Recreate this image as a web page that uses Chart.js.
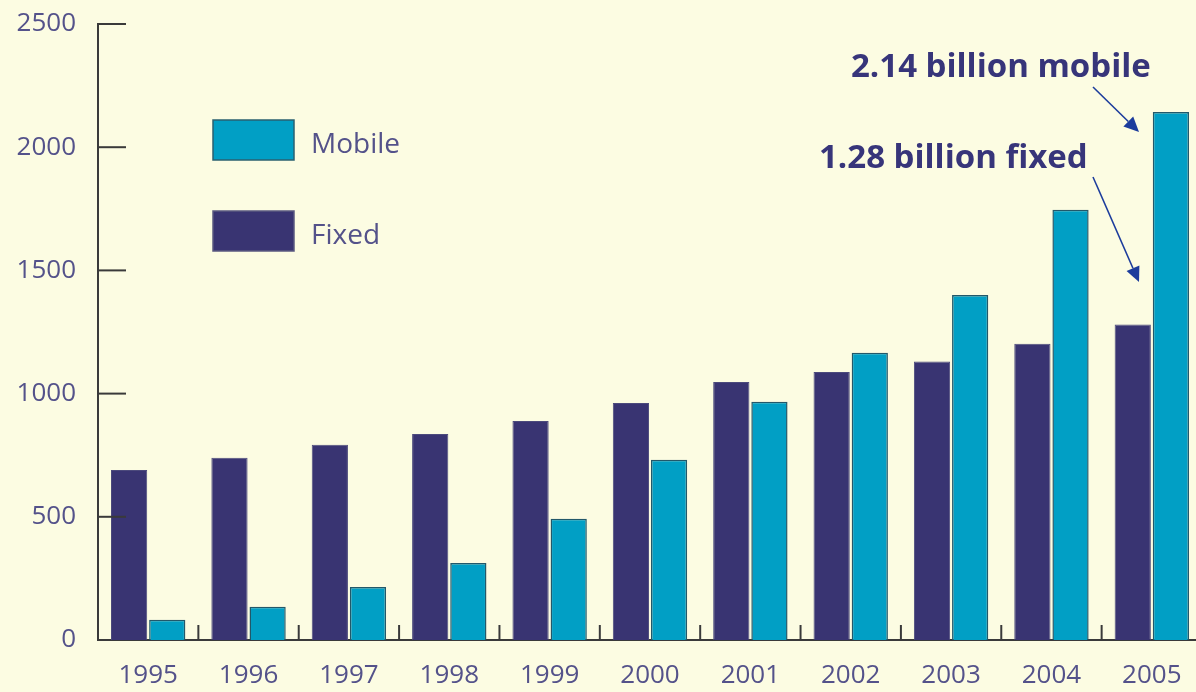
<!DOCTYPE html>
<html>
<head>
<meta charset="utf-8">
<script src="https://cdn.jsdelivr.net/npm/chart.js@4"></script>
<style>
  html, body { margin: 0; padding: 0; background: #fcfce2; overflow: hidden; }
  #wrap { width: 1203px; height: 692px; position: relative; }
</style>
</head>
<body>
<div id="wrap"><canvas id="subsChart"></canvas></div>
<script>
const years = ['1995', '1996', '1997', '1998', '1999', '2000', '2001', '2002', '2003', '2004', '2005'];
const fixedLines = [690, 740, 792, 836, 889, 962, 1047, 1088, 1130, 1202, 1280];
const mobileSubs = [82, 135, 215, 312, 492, 732, 967, 1166, 1400, 1746, 2143];
const yTicks = [0, 500, 1000, 1500, 2000, 2500];

const labelColor = '#54528a';
const axisColor = '#3a3a3a';
const fixedColor = '#393472';
const mobileColor = '#019fc5';

// inward ticks, legend and the two callouts
const extras = {
  id: 'extras',
  afterDraw(chart) {
    const ctx = chart.ctx;
    const x = chart.scales.x, y = chart.scales.y;
    const area = chart.chartArea;
    ctx.save();
    ctx.strokeStyle = axisColor;
    ctx.lineWidth = 2;
    yTicks.forEach(v => {
      if (v === 0) return;
      const py = y.getPixelForValue(v);
      ctx.beginPath();
      ctx.moveTo(area.left, py);
      ctx.lineTo(area.left + 28, py);
      ctx.stroke();
    });
    for (let i = 0; i < years.length - 1; i++) {
      const px = (x.getPixelForValue(i) + x.getPixelForValue(i + 1)) / 2;
      ctx.beginPath();
      ctx.moveTo(px, area.bottom);
      ctx.lineTo(px, area.bottom - 15);
      ctx.stroke();
    }

    // legend
    const items = [
      { label: 'Mobile', color: mobileColor, border: '#2a6070', y: 120 },
      { label: 'Fixed', color: fixedColor, border: '#5a5880', y: 211 }
    ];
    ctx.font = '28px "Open Sans"';
    ctx.textBaseline = 'middle';
    ctx.textAlign = 'left';
    items.forEach(it => {
      ctx.fillStyle = it.color;
      ctx.fillRect(213, it.y, 81, 40);
      ctx.strokeStyle = it.border;
      ctx.lineWidth = 1.5;
      ctx.strokeRect(213, it.y, 81, 40);
      ctx.fillStyle = labelColor;
      ctx.fillText(it.label, 311, it.y + 25);
    });

    // callouts
    ctx.font = 'bold 33px "Open Sans"';
    ctx.fillStyle = '#37357a';
    ctx.fillText('2.14 billion mobile', 851, 68);
    ctx.fillText('1.28 billion fixed', 819, 159);
    arrow(ctx, 1093, 87, 1139, 132);
    arrow(ctx, 1093, 177, 1139, 282);
    ctx.restore();
  }
};

function arrow(ctx, x1, y1, x2, y2) {
  const a = Math.atan2(y2 - y1, x2 - x1);
  const len = 15, w = 7;
  ctx.strokeStyle = '#1c3c9c';
  ctx.fillStyle = '#1c3c9c';
  ctx.lineWidth = 1.6;
  ctx.beginPath();
  ctx.moveTo(x1, y1);
  ctx.lineTo(x2 - len * Math.cos(a), y2 - len * Math.sin(a));
  ctx.stroke();
  ctx.beginPath();
  ctx.moveTo(x2, y2);
  ctx.lineTo(x2 - len * Math.cos(a) + w * Math.sin(a), y2 - len * Math.sin(a) - w * Math.cos(a));
  ctx.lineTo(x2 - len * Math.cos(a) - w * Math.sin(a), y2 - len * Math.sin(a) + w * Math.cos(a));
  ctx.closePath();
  ctx.fill();
}

new Chart(document.getElementById('subsChart'), {
  type: 'bar',
  data: {
    labels: years,
    datasets: [{
      label: 'Fixed',
      data: fixedLines,
      backgroundColor: fixedColor,
      borderColor: '#4c4a7c',
      borderWidth: 1
    }, {
      label: 'Mobile',
      data: mobileSubs,
      backgroundColor: mobileColor,
      borderColor: '#22586a',
      borderWidth: 1.5
    }]
  },
  options: {
    responsive: true,
    maintainAspectRatio: false,
    animation: false,
    layout: { padding: { top: 24, left: 10, right: 1, bottom: 0 } },
    datasets: { bar: { categoryPercentage: 0.76, barPercentage: 0.95 } },
    plugins: {
      legend: { display: false },
      tooltip: { enabled: false }
    },
    scales: {
      x: {
        grid: { display: false, drawTicks: false },
        border: { display: true, color: axisColor, width: 2 },
        ticks: { color: labelColor, font: { family: 'Open Sans', size: 26 }, padding: 20, maxRotation: 0 },
        afterFit(s) { s.height = 52; s.paddingLeft = 0; s.paddingRight = 0; }
      },
      y: {
        min: 0,
        max: 2500,
        grid: { display: false, drawTicks: false },
        border: { display: true, color: axisColor, width: 2 },
        ticks: {
          stepSize: 500,
          color: labelColor,
          font: { family: 'Open Sans', size: 26 },
          padding: 22,
          callback: v => String(v)
        },
        afterFit(s) { s.width = 88; s.paddingTop = 0; s.paddingBottom = 0; }
      }
    }
  },
  plugins: [extras]
});
</script>
</body>
</html>
